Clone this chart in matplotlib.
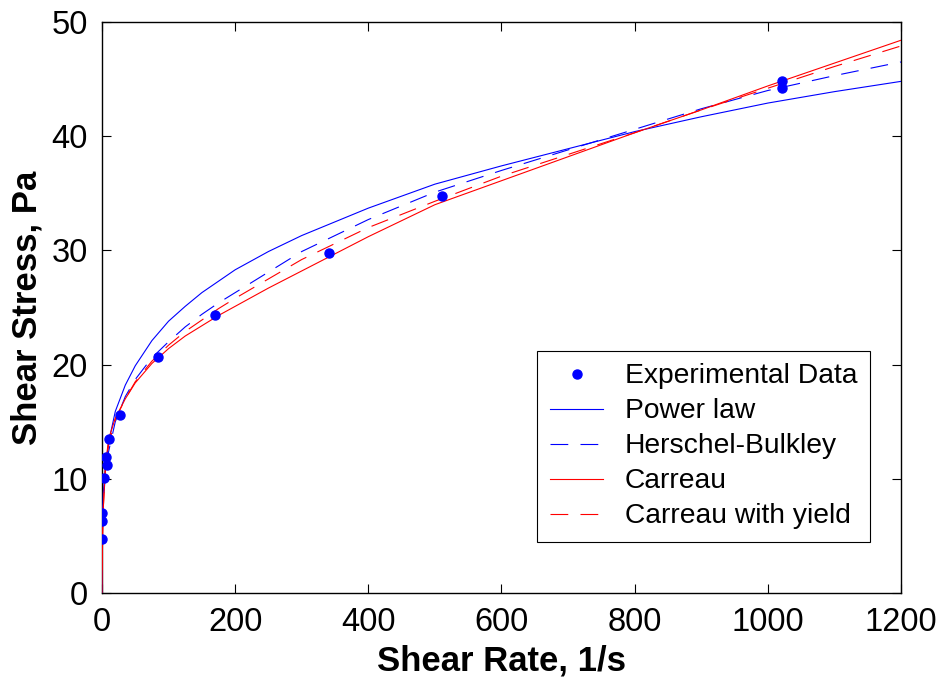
import numpy as np
import matplotlib
matplotlib.use("Agg")
import matplotlib.pyplot as plt

plt.rcParams['font.family'] = ['Liberation Sans', 'DejaVu Sans']

#======================== data ========================#

# experimental points
exp_rate = [0.5, 0.6, 0.7, 3.4, 6.0, 7.0, 10.5, 27, 84, 170, 341, 510, 1021, 1021]
exp_stress = [4.7, 6.3, 7.0, 10.1, 11.9, 11.2, 13.5, 15.6, 20.7, 24.3, 29.8, 34.8, 44.8, 44.2]

# model curves, sampled on one shear-rate grid
rate = [0, 0.5, 1, 2, 5, 10, 20, 35, 50, 75, 100, 125, 150, 175, 200, 250, 300,
        400, 500, 600, 700, 800, 900, 1000, 1100, 1200]
power_law = [0, 6.0, 7.3, 8.8, 11.0, 13.2, 15.9, 18.2, 19.9, 22.1, 23.8, 25.1, 26.3, 27.3, 28.3, 29.9, 31.3,
             33.7, 35.8, 37.4, 38.9, 40.4, 41.7, 42.9, 43.9, 44.8]
herschel = [3.5, 5.5, 6.8, 8.0, 10.2, 12.4, 15.0, 17.2, 18.7, 20.6, 22.0, 23.3, 24.4, 25.4, 26.3, 28.1, 29.9,
            32.7, 35.1, 37.0, 38.8, 40.6, 42.4, 44.0, 45.3, 46.5]
carreau = [0, 3.0, 5.0, 7.5, 11.0, 13.5, 15.3, 17.0, 18.4, 20.1, 21.4, 22.5, 23.4, 24.3, 25.1, 26.7, 28.2,
           31.2, 34.0, 36.1, 38.2, 40.3, 42.3, 44.4, 46.4, 48.4]
carreau_yield = [2.0, 4.5, 5.8, 7.5, 10.6, 13.0, 15.2, 17.0, 18.5, 20.3, 21.7, 22.9, 23.9, 24.9, 25.8, 27.5, 29.2,
                 32.0, 34.3, 36.5, 38.4, 40.3, 42.3, 44.2, 46.1, 47.9]

xticks = [0, 200, 400, 600, 800, 1000, 1200]
yticks = [0, 10, 20, 30, 40, 50]

#==========================================================================#

fig = plt.figure(figsize=(9.46, 6.83), dpi=100)
ax = fig.add_axes([0.1078, 0.1318, 0.8446, 0.836])

dash = (0, (16, 11))
ax.plot(exp_rate, exp_stress, 'o', color='blue', markersize=6.5, label='Experimental Data', zorder=5)
ax.plot(rate, power_law, '-', color='blue', lw=0.8, label='Power law', zorder=3)
ax.plot(rate, herschel, color='blue', lw=0.8, linestyle=dash, label='Herschel-Bulkley', zorder=3)
ax.plot(rate, carreau, '-', color='red', lw=0.8, label='Carreau', zorder=3)
ax.plot(rate, carreau_yield, color='red', lw=0.8, linestyle=dash, label='Carreau with yield', zorder=3)

ax.set_xlim(0, 1200)
ax.set_ylim(0, 50)
ax.set_xticks(xticks)
ax.set_yticks(yticks)
ax.tick_params(direction='in', top=True, right=True, length=6.5, width=0.8, labelsize=23.5, pad=10)
for s in ax.spines.values():
    s.set_linewidth(1.0)

ax.set_xlabel('Shear Rate, 1/s', fontsize=25, fontweight='bold', labelpad=5)
ax.set_ylabel('Shear Stress, Pa', fontsize=25, fontweight='bold', labelpad=6)

leg = ax.legend(loc='lower right', bbox_to_anchor=(0.961, 0.089), borderaxespad=0, fontsize=20.3,
                frameon=True, fancybox=False, edgecolor='black', framealpha=1, handlelength=1.9,
                labelspacing=0.32, borderpad=0.45, handletextpad=0.75, numpoints=1)
leg.get_frame().set_linewidth(0.8)

fig.savefig('out.png', dpi=100)
